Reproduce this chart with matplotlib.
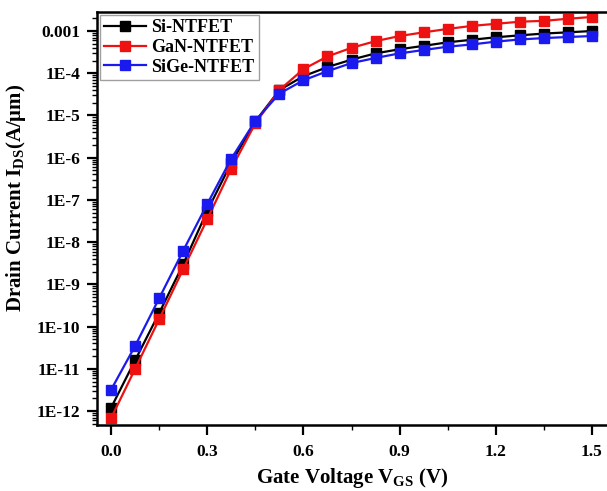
import numpy as np
import matplotlib
matplotlib.use('Agg')
import matplotlib.pyplot as plt
from matplotlib.ticker import FixedLocator, MultipleLocator, LogLocator, NullFormatter

plt.rcParams['font.family'] = 'Liberation Serif'
plt.rcParams['font.weight'] = 'bold'
plt.rcParams['mathtext.fontset'] = 'custom'
plt.rcParams['mathtext.rm'] = 'Liberation Serif:bold'
plt.rcParams['mathtext.bf'] = 'Liberation Serif:bold'
plt.rcParams['mathtext.it'] = 'Liberation Serif:bold'

vgs = [0.0, 0.075, 0.15, 0.225, 0.3, 0.375, 0.45, 0.525, 0.6, 0.675, 0.75,
       0.825, 0.9, 0.975, 1.05, 1.125, 1.2, 1.275, 1.35, 1.425, 1.5]
si = [1.2e-12, 1.6e-11, 2.1e-10, 3.0e-9, 5.5e-8, 7.6e-7, 7.2e-6, 4.0e-5, 8.5e-5, 1.4e-4,
      2.1e-4, 2.95e-4, 3.7e-4, 4.45e-4, 5.4e-4, 6.2e-4, 7.1e-4, 7.9e-4, 8.7e-4, 9.3e-4, 1.0e-3]
gan = [6.8e-13, 1.0e-11, 1.5e-10, 2.3e-9, 3.5e-8, 5.5e-7, 6.5e-6, 4.0e-5, 1.25e-4, 2.5e-4,
       4.0e-4, 5.75e-4, 7.6e-4, 9.3e-4, 1.12e-3, 1.32e-3, 1.48e-3, 1.66e-3, 1.74e-3, 1.95e-3, 2.15e-3]
sige = [3.2e-12, 3.5e-11, 4.7e-10, 6.3e-9, 8.0e-8, 9.5e-7, 7.5e-6, 3.3e-5, 6.8e-5, 1.12e-4,
        1.74e-4, 2.3e-4, 2.95e-4, 3.55e-4, 4.25e-4, 4.8e-4, 5.6e-4, 6.3e-4, 6.8e-4, 7.2e-4, 7.6e-4]
ytick_vals = [1e-12, 1e-11, 1e-10, 1e-9, 1e-8, 1e-7, 1e-6, 1e-5, 1e-4, 1e-3]
ytick_labels = ['1E-12', '1E-11', '1E-10', '1E-9', '1E-8', '1E-7', '1E-6', '1E-5', '1E-4', '0.001']

fig = plt.figure(figsize=(6.07, 4.91), dpi=100)
ax = fig.add_axes([97/607, 66/491, 1 - 97/607, (425-12)/491])

for y, c, lbl in [(si, 'black', 'Si-NTFET'), (gan, '#ee1111', 'GaN-NTFET'), (sige, '#1a1aee', 'SiGe-NTFET')]:
    ax.plot(vgs, y, '-s', color=c, lw=1.6, ms=7, mec=c, label=lbl)

ax.set_yscale('log')
ax.set_ylim(10**-12.33, 10**-2.55)
ax.set_xlim(-0.044, 1.547)
ax.yaxis.set_major_locator(FixedLocator(ytick_vals))
ax.set_yticklabels(ytick_labels)
ax.yaxis.set_minor_locator(LogLocator(base=10, subs=np.arange(2, 10), numticks=30))
ax.yaxis.set_minor_formatter(NullFormatter())
ax.xaxis.set_minor_locator(MultipleLocator(0.15))
ax.set_xticks([0.0, 0.3, 0.6, 0.9, 1.2, 1.5])
ax.set_xticklabels(['0.0', '0.3', '0.6', '0.9', '1.2', '1.5'])
ax.tick_params(which='major', direction='out', length=7, width=1.6, labelsize=12.5, pad=5)
ax.tick_params(which='minor', direction='out', length=3.5, width=1)
ax.tick_params(axis='x', which='major', pad=7)
ax.spines['right'].set_visible(False)
for s in ['left', 'bottom', 'top']:
    ax.spines[s].set_linewidth(1.8)

ax.set_xlabel(r'Gate Voltage V$_{GS}$ (V)', fontsize=15, fontweight='bold', labelpad=4)
ax.set_ylabel(r'Drain Current I$_{DS}$(A/μm)', fontsize=15, fontweight='bold', labelpad=5)
ax.yaxis.set_label_coords(-0.135, 0.55)

leg = ax.legend(loc='upper left', fontsize=13, frameon=True, fancybox=False,
                handlelength=2.3, borderpad=0.25, labelspacing=0.15, handletextpad=0.3,
                borderaxespad=0.15)
leg.get_frame().set_edgecolor('#888888')
leg.get_frame().set_linewidth(1)

fig.savefig('out.png', dpi=100)
